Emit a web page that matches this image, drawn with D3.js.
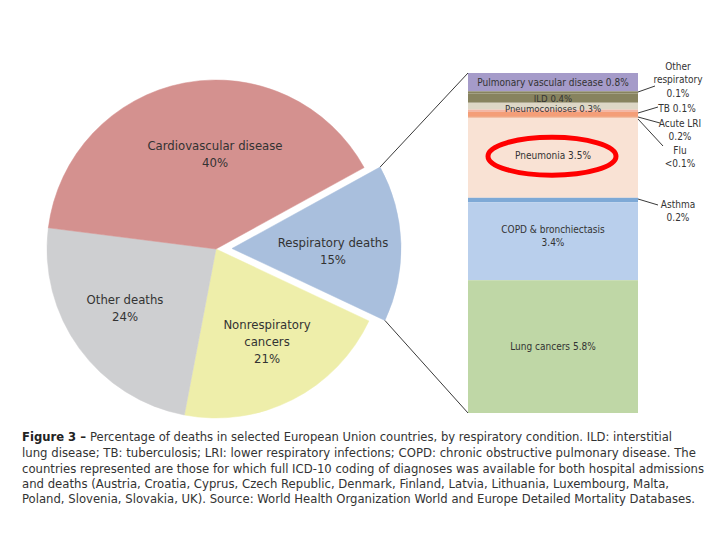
<!DOCTYPE html>
<html>
<head>
<meta charset="utf-8">
<script src="https://cdn.jsdelivr.net/npm/d3@7"></script>
<style>
  body { margin: 0; background: #fff; }
  svg { display: block; }
</style>
</head>
<body>
<svg id="chart" width="720" height="540"></svg>
<script>
// ---- data ----
const pieCategories = ["Respiratory deaths", "Nonrespiratory cancers", "Other deaths", "Cardiovascular disease"];
const pieValues = [15, 21, 24, 40];
const pieLabelLines = [["Respiratory deaths", "15%"], ["Nonrespiratory", "cancers", "21%"], ["Other deaths", "24%"], ["Cardiovascular disease", "40%"]];
const pieColors = ["#a9bfdd", "#eeeeaa", "#cecfd1", "#d4918f"];

const barCategories = ["Pulmonary vascular disease", "Other respiratory", "ILD", "Pneumoconioses", "TB", "Acute LRI", "Flu", "Pneumonia", "Asthma", "COPD & bronchiectasis", "Lung cancers"];
const barValues = [0.8, 0.1, 0.4, 0.3, 0.1, 0.2, 0.05, 3.5, 0.2, 3.4, 5.8];
const barValueLabels = ["0.8%", "0.1%", "0.4%", "0.3%", "0.1%", "0.2%", "<0.1%", "3.5%", "0.2%", "3.4%", "5.8%"];
const barColors = ["#a59bc9", "#87835f", "#87835f", "#ddd7c6", "#f3b6a4", "#f49e78", "#e8814f", "#f9e2d4", "#7ea9d6", "#b9cfec", "#bfd7a6"];

const captionLines = [
  "Percentage of deaths in selected European Union countries, by respiratory condition. ILD: interstitial",
  "lung disease; TB: tuberculosis; LRI: lower respiratory infections; COPD: chronic obstructive pulmonary disease. The",
  "countries represented are those for which full ICD-10 coding of diagnoses was available for both hospital admissions",
  "and deaths (Austria, Croatia, Cyprus, Czech Republic, Denmark, Finland, Latvia, Lithuania, Luxembourg, Malta,",
  "Poland, Slovenia, Slovakia, UK). Source: World Health Organization World and Europe Detailed Mortality Databases."
];

// ---- drawing ----
const svg = d3.select("#chart");
const font = "'DejaVu Sans Condensed', 'DejaVu Sans', sans-serif";
const textColor = "#333";

// Pie
const cx = 216, cy = 249, R = 169;
const start = 61.2 * Math.PI / 180;
const pie = d3.pie().sort(null).startAngle(start).endAngle(start + 2 * Math.PI);
const arcs = pie(pieValues);
const arc = d3.arc().innerRadius(0).outerRadius(R);
const explode = 16;

const gPie = svg.append("g").attr("transform", `translate(${cx},${cy})`);
const slices = gPie.selectAll("g.slice").data(arcs).join("g")
  .attr("class", "slice")
  .attr("transform", (d, i) => {
    if (i !== 0) return null;
    const mid = (d.startAngle + d.endAngle) / 2;
    return `translate(${explode * Math.sin(mid)},${-explode * Math.cos(mid)})`;
  });
slices.append("path").attr("d", arc).attr("fill", (d, i) => pieColors[i])
  .attr("stroke", (d, i) => pieColors[i]).attr("stroke-width", 0.5);

const labelPos = [[117, -6], [51, 75], [-91, 50], [-1, -104]];
slices.each(function (d, i) {
  const lines = pieLabelLines[i];
  const t = d3.select(this).append("text")
    .attr("text-anchor", "middle")
    .attr("font-family", font).attr("font-size", 13).attr("fill", textColor);
  lines.forEach((ln, k) => {
    t.append("tspan").attr("x", labelPos[i][0] - (i === 0 ? explode * Math.sin((d.startAngle + d.endAngle) / 2) : 0))
      .attr("y", labelPos[i][1] + k * 17 + 5).text(ln);
  });
});

// Stacked bar
const barX0 = 468, barX1 = 638, barTop = 73, barBottom = 413;
const total = d3.sum(barValues);
const y = d3.scaleLinear().domain([0, total]).range([barBottom, barTop]);
// stack from bottom: last category at bottom
let cum = 0;
const stacked = [];
for (let i = barValues.length - 1; i >= 0; i--) {
  stacked[i] = { y0: cum, y1: cum + barValues[i] };
  cum += barValues[i];
}
const gBar = svg.append("g");
gBar.selectAll("rect").data(barValues).join("rect")
  .attr("x", barX0).attr("width", barX1 - barX0)
  .attr("y", (d, i) => y(stacked[i].y1))
  .attr("height", (d, i) => y(stacked[i].y0) - y(stacked[i].y1))
  .attr("fill", (d, i) => barColors[i]);

const barMid = (barX0 + barX1) / 2;
function inner(i, lines, dy, size) {
  const ym = (y(stacked[i].y0) + y(stacked[i].y1)) / 2 + (dy || 0);
  const t = gBar.append("text").attr("text-anchor", "middle")
    .attr("font-family", font).attr("font-size", size || 10).attr("fill", textColor);
  lines.forEach((ln, k) => {
    t.append("tspan").attr("x", barMid).attr("y", ym + k * 13 + 3.5).text(ln);
  });
}
inner(0, [barCategories[0] + " " + barValueLabels[0]], 0, 10);
inner(2, [barCategories[2] + " " + barValueLabels[2]], 0, 9.5);
inner(3, [barCategories[3] + " " + barValueLabels[3]], 2.5, 9.5);
inner(7, [barCategories[7] + " " + barValueLabels[7]], -2, 10);
inner(9, [barCategories[9], barValueLabels[9]], -12, 10);
inner(10, [barCategories[10] + " " + barValueLabels[10]], 0, 10);

// outside labels with leader lines
const outside = [
  { i: 1, lines: ["Other", "respiratory", barValueLabels[1]], tx: 678, ty: 66, from: [638, 92], to: [655, 86] },
  { i: 4, lines: [barCategories[4] + " " + barValueLabels[4]], tx: 677, ty: 108, from: [638, 113], to: [658, 107] },
  { i: 5, lines: [barCategories[5], barValueLabels[5]], tx: 680, ty: 123, from: [638, 117], to: [660, 123] },
  { i: 6, lines: [barCategories[6], barValueLabels[6]], tx: 680, ty: 150, from: [638, 119], to: [663, 146] },
  { i: 8, lines: [barCategories[8], barValueLabels[8]], tx: 678, ty: 204, from: [638, 199], to: [658, 205] }
];
outside.forEach(o => {
  gBar.append("line").attr("x1", o.from[0]).attr("y1", o.from[1]).attr("x2", o.to[0]).attr("y2", o.to[1])
    .attr("stroke", "#222").attr("stroke-width", 0.9);
  const t = gBar.append("text").attr("text-anchor", "middle")
    .attr("font-family", font).attr("font-size", 10).attr("fill", textColor);
  o.lines.forEach((ln, k) => {
    t.append("tspan").attr("x", o.tx).attr("y", o.ty + k * 13.5 + 3.5).text(ln);
  });
});

// connector lines from exploded slice to bar
const a0 = arcs[0];
const ex = explode * Math.sin((a0.startAngle + a0.endAngle) / 2);
const ey = -explode * Math.cos((a0.startAngle + a0.endAngle) / 2);
const p1 = [cx + ex + R * Math.sin(a0.startAngle), cy + ey - R * Math.cos(a0.startAngle)];
const p2 = [cx + ex + R * Math.sin(a0.endAngle), cy + ey - R * Math.cos(a0.endAngle)];
svg.append("line").attr("x1", p1[0]).attr("y1", p1[1]).attr("x2", barX0).attr("y2", barTop)
  .attr("stroke", "#222").attr("stroke-width", 0.9);
svg.append("line").attr("x1", p2[0]).attr("y1", p2[1]).attr("x2", barX0).attr("y2", barBottom)
  .attr("stroke", "#222").attr("stroke-width", 0.9);

// red highlight ellipse around Pneumonia
const pm = (y(stacked[7].y0) + y(stacked[7].y1)) / 2;
svg.append("ellipse").attr("cx", 552).attr("cy", pm - 1.5).attr("rx", 64).attr("ry", 19)
  .attr("fill", "none").attr("stroke", "#f00").attr("stroke-width", 5);

// caption
const capY = [441, 457, 473, 488, 503];
const capW = [650, 674, 682, 647, 673];
const cap = svg.append("g").attr("font-family", font).attr("font-size", 11.5).attr("fill", "#333");
captionLines.forEach((ln, k) => {
  const t = cap.append("text").attr("x", 22).attr("y", capY[k])
    .attr("textLength", capW[k]).attr("lengthAdjust", "spacingAndGlyphs");
  if (k === 0) {
    t.append("tspan").attr("font-weight", "bold").attr("fill", "#222").text("Figure 3 \u2013 ");
  }
  t.append("tspan").text(ln);
});
</script>
</body>
</html>
